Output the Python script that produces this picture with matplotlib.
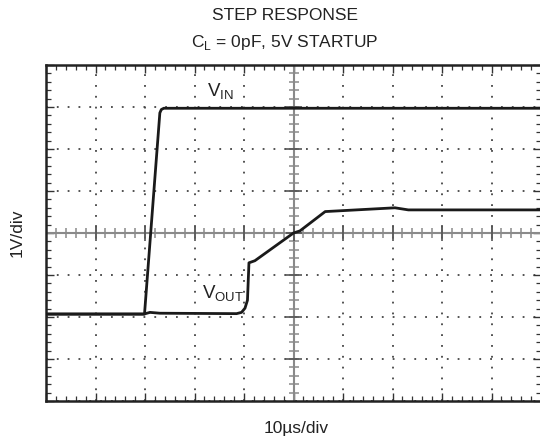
import matplotlib
matplotlib.use("Agg")
import matplotlib.pyplot as plt
import numpy as np

plt.rcParams.update({
    "font.family": ["Liberation Sans", "DejaVu Sans"],
    "font.size": 12.5,
})

# traces in screen divisions (x: 10 div, y: 8 div)
vin_x = [0.0, 1.99, 2.30, 2.33, 2.38, 10.0]
vin_y = [2.07, 2.07, 6.86, 6.94, 6.97, 6.97]

vout_x = [0.0, 1.98, 2.10, 2.30, 3.85, 3.95, 4.02, 4.07, 4.10, 4.22, 5.00, 5.13, 5.64, 7.05, 7.32, 10.0]
vout_y = [2.07, 2.07, 2.11, 2.09, 2.08, 2.11, 2.21, 2.40, 3.29, 3.34, 4.00, 4.05, 4.51, 4.60, 4.55, 4.55]

fig = plt.figure(figsize=(5.4, 4.41), dpi=100)
ax = fig.add_axes([46 / 540, 40 / 441, 495 / 540, 336 / 441])
ax.set_xlim(0, 10)
ax.set_ylim(0, 8)

# scope graticule
ax.set_xticks(np.arange(0, 11, 1))
ax.set_yticks(np.arange(0, 9, 1))
ax.set_xticks(np.arange(0, 10.01, 0.2), minor=True)
ax.set_yticks(np.arange(0, 8.01, 0.2), minor=True)
ax.tick_params(which="both", direction="in", top=True, right=True,
               labelbottom=False, labelleft=False, color="#333333")
ax.tick_params(which="major", length=5.5, width=1.0)
ax.tick_params(which="minor", length=3.5, width=0.9)
ax.grid(True, which="major", linestyle=(0, (1, 5)), linewidth=1.3, color="#444444")
for s in ax.spines.values():
    s.set_linewidth(1.8)
    s.set_color("#222222")
ax.spines["right"].set_visible(False)  # cropped off in the original

# centre crosshair with tick marks
gray = "#8a8a8a"
ax.axhline(4, color=gray, linewidth=1.5, zorder=2)
ax.axvline(5, color=gray, linewidth=1.5, zorder=2)
minor_x = np.arange(0.2, 10, 0.2)
minor_y = np.arange(0.2, 8, 0.2)
ax.plot(minor_x, np.full(len(minor_x), 4), ls="none", marker="|", ms=7.5, mew=1.1, color=gray, zorder=2)
ax.plot(np.full(len(minor_y), 5), minor_y, ls="none", marker="_", ms=7.5, mew=1.1, color=gray, zorder=2)
ax.plot(np.arange(1, 10), np.full(9, 4), ls="none", marker="|", ms=12, mew=1.2, color="#555555", zorder=2)
ax.plot(np.full(7, 5), np.arange(1, 8), ls="none", marker="_", ms=12, mew=1.2, color="#555555", zorder=2)

ax.plot(vin_x, vin_y, color="#1a1a1a", linewidth=2.0, solid_joinstyle="round", zorder=3)
ax.plot(vout_x, vout_y, color="#1a1a1a", linewidth=2.0, solid_joinstyle="round", zorder=3)

ax.text(3.25, 7.12, r"V$_{\mathregular{IN}}$", fontsize=13.5, va="bottom", ha="left", color="#222222")
ax.text(3.15, 2.32, r"V$_{\mathregular{OUT}}$", fontsize=13.5, va="bottom", ha="left", color="#222222")

fig.text(285 / 540, 1 - 16 / 441, "STEP RESPONSE", ha="center", va="center", color="#222222")
fig.text(285 / 540, 1 - 42 / 441, r"C$_{\mathregular{L}}$ = 0pF, 5V STARTUP", ha="center", va="center", color="#222222")
fig.text(17 / 540, 1 - 233 / 441, "1V/div", rotation=90, ha="center", va="center", color="#222222")
fig.text(296 / 540, 1 - 429 / 441, "10µs/div", ha="center", va="center", color="#222222")

fig.savefig("out.png", dpi=100)
